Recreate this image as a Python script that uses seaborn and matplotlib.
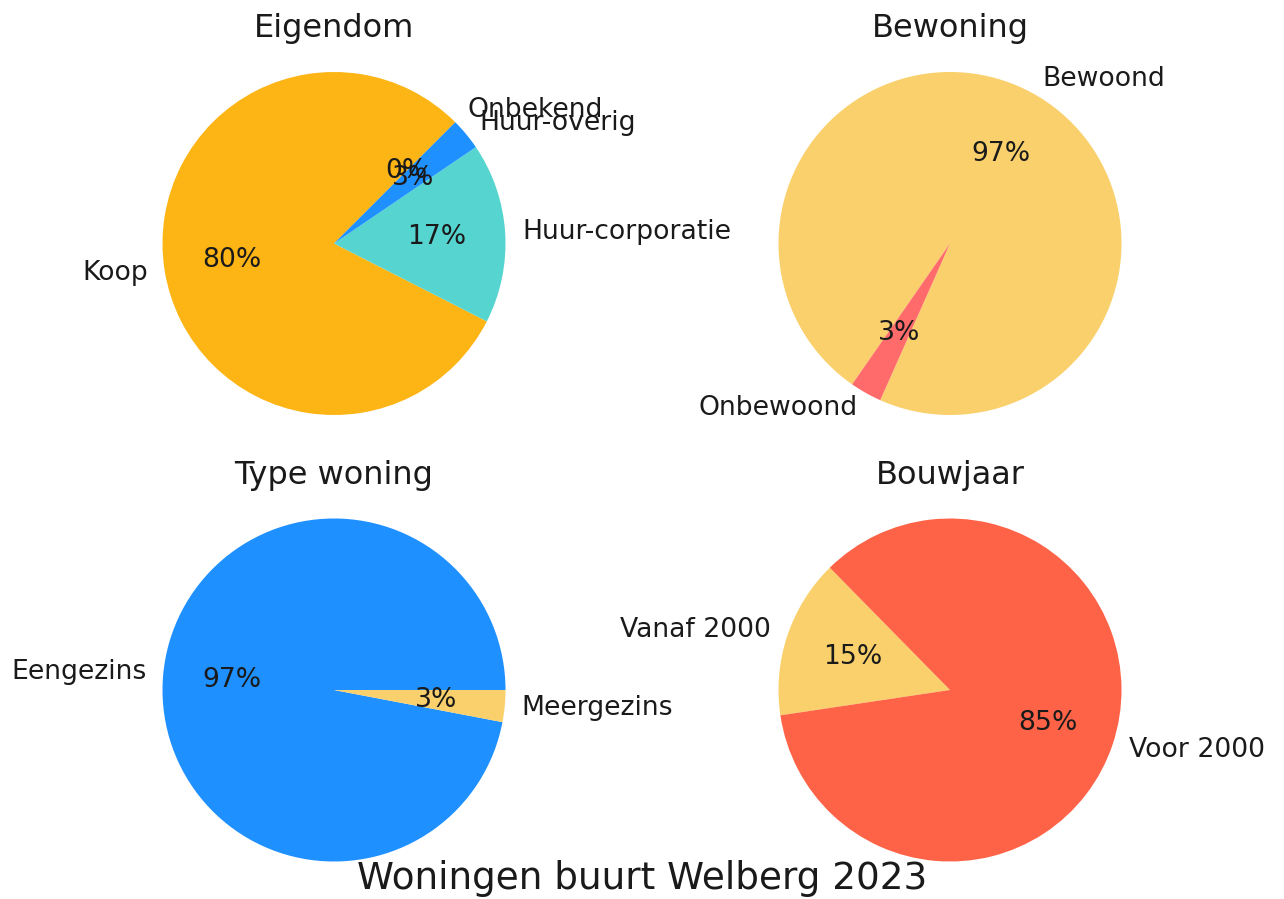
import matplotlib
matplotlib.use('Agg')
import seaborn as sns
import matplotlib.pyplot as plt

sns.set_style('white')

eigendom_labels = ['Koop', 'Huur-corporatie', 'Huur-overig', 'Onbekend']
eigendom_values = [80, 17, 3, 0]
eigendom_colors = ['#FDB515', '#56D4D0', '#1E90FF', '#A0A0A0']

bewoning_labels = ['Bewoond', 'Onbewoond']
bewoning_values = [97, 3]
bewoning_colors = ['#F9D06B', '#FF6B6B']

type_labels = ['Eengezins', 'Meergezins']
type_values = [97, 3]
type_colors = ['#1E90FF', '#F9D06B']

bouwjaar_labels = ['Vanaf 2000', 'Voor 2000']
bouwjaar_values = [15, 85]
bouwjaar_colors = ['#F9D06B', '#FF6347']

W, H = 1284, 899
DPI = 192
fig = plt.figure(figsize=(W / DPI, H / DPI), dpi=DPI)

r = 171.5
side = 2.5 * r


def make_ax(cx, cy):
    # cx, cy: pie centre in pixels from the top-left corner
    left = (cx - side / 2) / W
    bottom = (H - cy - side / 2) / H
    return fig.add_axes([left, bottom, side / W, side / H])


panels = [
    ((334, 243.5), 'Eigendom', eigendom_labels, eigendom_values, eigendom_colors, 45),
    ((950, 243.5), 'Bewoning', bewoning_labels, bewoning_values, bewoning_colors, 246),
    ((334, 690), 'Type woning', type_labels, type_values, type_colors, 0),
    ((950, 690), 'Bouwjaar', bouwjaar_labels, bouwjaar_values, bouwjaar_colors, 134.5),
]

for (cx, cy), title, labels, values, colors, start in panels:
    ax = make_ax(cx, cy)
    ax.pie(values, labels=labels, colors=colors, autopct='%1.0f%%',
           startangle=start, wedgeprops={'linewidth': 0, 'edgecolor': 'none'},
           textprops={'fontsize': 10, 'color': '#1a1a1a'})
    ax.set_title(title, fontsize=12, pad=0, y=1 - 8 / side, color='#1a1a1a')

fig.text(0.5, (H - 889) / H, 'Woningen buurt Welberg 2023', ha='center',
         va='baseline', fontsize=14, color='#1a1a1a')

fig.savefig('out.png', dpi=DPI)
